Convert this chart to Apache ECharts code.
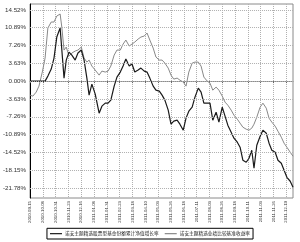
<!DOCTYPE html>
<html><head><meta charset="utf-8">
<script src="https://cdn.jsdelivr.net/npm/echarts@6/dist/echarts.min.js"></script>
<style>html,body{margin:0;padding:0;background:#fff}#c{width:300px;height:242px}</style>
</head><body><div id="c"></div>
<script>
var startDate = '2010-09-15';
var endDate = '2011-12-31';
var legendNames = ['诺安主题精选股票型基金份额累计净值增长率', '诺安主题精选业绩比较基准收益率'];
var yTicks = [-21.78, -18.15, -14.52, -10.89, -7.26, -3.63, 0, 3.63, 7.26, 10.89, 14.52];
var sampleDates = ['2010-09-15','2010-09-20','2010-09-26','2010-10-01','2010-10-07','2010-10-12','2010-10-17','2010-10-23','2010-10-28','2010-11-02','2010-11-08','2010-11-11','2010-11-15','2010-11-19','2010-11-24','2010-11-29','2010-12-05','2010-12-10','2010-12-16','2010-12-21','2010-12-26','2010-12-30','2011-01-04','2011-01-10','2011-01-17','2011-01-22','2011-01-28','2011-02-02','2011-02-07','2011-02-13','2011-02-18','2011-02-24','2011-03-01','2011-03-06','2011-03-12','2011-03-17','2011-03-22','2011-03-28','2011-04-02','2011-04-08','2011-04-13','2011-04-18','2011-04-24','2011-04-29','2011-05-05','2011-05-10','2011-05-15','2011-05-21','2011-05-26','2011-05-31','2011-06-06','2011-06-11','2011-06-17','2011-06-22','2011-06-27','2011-07-03','2011-07-08','2011-07-14','2011-07-19','2011-07-24','2011-07-30','2011-08-04','2011-08-09','2011-08-15','2011-08-20','2011-08-26','2011-08-31','2011-09-05','2011-09-11','2011-09-16','2011-09-22','2011-09-27','2011-10-02','2011-10-08','2011-10-13','2011-10-18','2011-10-22','2011-10-27','2011-11-02','2011-11-07','2011-11-13','2011-11-18','2011-11-23','2011-11-29','2011-12-04','2011-12-10','2011-12-15','2011-12-20','2011-12-26','2011-12-31'];
var fundValues = [0,0,0,0,0,0,1.02,2.45,4.69,8.97,10.81,11.01,0.61,4.28,5.91,5.30,4.28,5.71,6.32,4.28,0.61,-2.85,-0.61,-2.65,-6.53,-5.10,-4.49,-4.49,-3.87,-1.02,0.82,1.84,3.06,4.49,3.06,3.47,1.84,2.24,2.65,2.04,1.84,0.61,-1.02,-1.84,-2.04,-2.85,-3.87,-5.91,-8.77,-8.16,-7.95,-8.77,-9.99,-7.54,-6.12,-5.30,-3.26,-1.43,-2.24,-4.49,-4.49,-4.49,-7.95,-6.32,-8.36,-5.30,-7.14,-8.97,-10.40,-11.62,-12.44,-13.46,-16.11,-16.52,-15.70,-14.07,-17.74,-13.05,-11.22,-9.99,-10.61,-12.64,-14.07,-14.48,-16.11,-16.72,-18.15,-19.58,-20.39,-21.62];
var benchValues = [-2.85,-3.06,-2.24,-1.02,1.84,4.69,10.81,12.03,12.03,13.25,13.66,11.01,6.32,6.93,5.10,5.71,6.12,6.32,6.93,4.69,3.87,4.28,3.06,2.24,1.22,2.04,1.84,2.04,3.06,5.30,6.32,6.32,7.54,8.36,7.14,7.54,7.95,8.56,8.97,9.18,9.79,8.36,6.73,4.90,4.28,4.28,3.67,2.65,1.22,0.41,0.61,0.20,-0.20,-1.02,1.84,3.67,3.87,3.87,3.06,0.82,0,-0.41,-1.84,-1.22,-1.84,-3.06,-4.28,-4.90,-5.91,-6.93,-7.75,-8.56,-9.38,-9.79,-9.99,-9.58,-8.77,-7.34,-5.30,-4.49,-5.51,-7.54,-8.36,-9.18,-10.20,-11.42,-12.64,-13.46,-14.48,-15.29];

var categories = [];
(function(){
  var d = new Date(startDate + 'T00:00:00Z'), e = new Date(endDate + 'T00:00:00Z');
  while (d <= e) { categories.push(d.toISOString().slice(0,10)); d.setUTCDate(d.getUTCDate()+1); }
})();
function pairs(vals){ return sampleDates.map(function(dt,i){ return [dt, vals[i]]; }); }

var chart = echarts.init(document.getElementById('c'), null, {renderer:'canvas'});
chart.setOption({
  animation: false,
  backgroundColor: '#fff',
  grid: { left: 29, right: 7, top: 4, bottom: 44, show: true, borderColor: '#8a8a8a', borderWidth: 1 },
  legend: {
    bottom: 3, left: 'center',
    data: legendNames,
    icon: 'rect', itemWidth: 12, itemHeight: 1.2, itemGap: 6,
    padding: [3, 3], borderColor: '#000', borderWidth: 1,
    textStyle: { fontSize: 4.7, fontFamily: 'Noto Sans CJK SC', color: '#222', padding: [0,0,0,-2] }
  },
  xAxis: {
    type: 'category', data: categories, boundaryGap: false,
    axisLine: { lineStyle: { color: '#8a8a8a', width: 1 } },
    axisTick: { show: true, interval: 22, length: 2, lineStyle: { color: '#666' } },
    axisLabel: { interval: 22, rotate: 90, fontSize: 4.3, color: '#333', margin: 3, fontFamily: 'Liberation Sans' },
    splitLine: { show: true, interval: 22, lineStyle: { type: [1, 1], color: '#b0b0b0', width: 1 } }
  },
  yAxis: {
    type: 'value', min: -23.8, max: 15.7,
    axisLine: { show: true, lineStyle: { color: '#000', width: 1 } },
    axisTick: { show: false },
    axisLabel: { customValues: yTicks, fontSize: 6.2, color: '#333', margin: 4, fontFamily: 'Liberation Sans',
      formatter: function(v){ return v.toFixed(2) + '%'; } },
    splitLine: { show: false }
  },
  series: [
    { name: legendNames[0], type: 'line', data: pairs(fundValues), showSymbol: false, symbol: 'none',
      lineStyle: { color: '#1a1a1a', width: 1.2 }, itemStyle: { color: '#1a1a1a' }, z: 3,
      markLine: { silent: true, symbol: 'none', label: { show: false },
        lineStyle: { type: [1, 1], color: '#b0b0b0', width: 1 },
        data: yTicks.map(function(v){ return { yAxis: v }; }) } },
    { name: legendNames[1], type: 'line', data: pairs(benchValues), showSymbol: false, symbol: 'none',
      lineStyle: { color: '#888888', width: 1 }, itemStyle: { color: '#888888' }, z: 2 }
  ]
});
</script></body></html>
